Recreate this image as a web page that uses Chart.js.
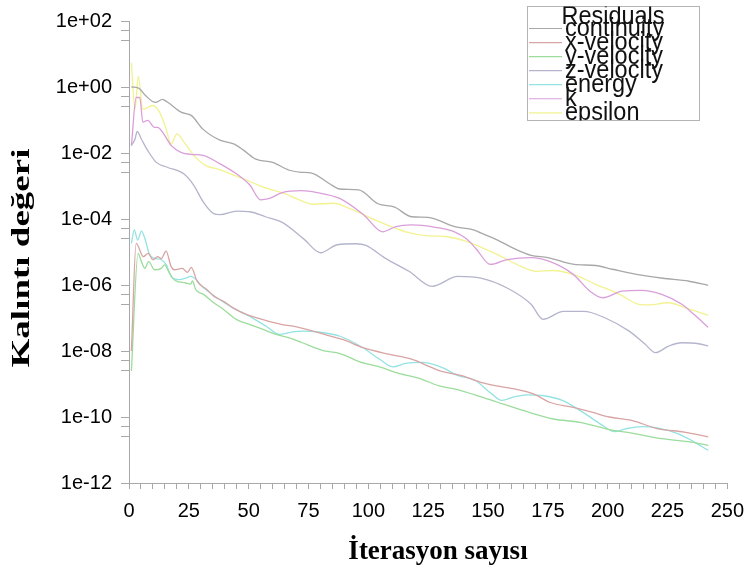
<!DOCTYPE html>
<html>
<head>
<meta charset="utf-8">
<script src="https://cdn.jsdelivr.net/npm/chart.js@4.4.1/dist/chart.umd.min.js"></script>
<style>
  html, body { margin: 0; padding: 0; background: #fff; }
  #wrap { width: 754px; height: 570px; position: relative; }
</style>
</head>
<body>
<div id="wrap"><canvas id="chart"></canvas></div>
<script>
// --- Data (iteration, residual) ---
const contIter = [1, 4, 7, 11, 14, 16, 22, 26, 31, 38, 44, 48, 53, 60, 67, 72, 76, 84, 88, 96, 104, 111, 118, 125, 136, 144, 147, 154, 161, 168, 175, 186, 195, 202, 212, 223, 234, 242];
const contVal = [1.0, 0.93, 0.54, 0.34, 0.42, 0.35, 0.17, 0.138, 0.052, 0.0245, 0.0186, 0.012, 6.5e-3, 5.2e-3, 3.0e-3, 2.6e-3, 2.5e-3, 1.15e-3, 8.1e-4, 7.6e-4, 2.9e-4, 2.3e-4, 1.17e-4, 1.12e-4, 5.9e-5, 4.7e-5, 3.8e-5, 2.3e-5, 1.26e-5, 7.9e-6, 6.8e-6, 4.2e-6, 3.9e-6, 3.0e-6, 2.1e-6, 1.6e-6, 1.3e-6, 9.8e-7];

const xvelIter = [1, 3, 6, 8, 10, 12, 13.5, 15.5, 17.6, 19, 22.3, 24.4, 26, 28.5, 32.6, 35.4, 39.5, 43.6, 49, 56, 64, 70, 83, 89.6, 97.8, 108.8, 118.4, 125, 129.3, 139, 147, 155.4, 161, 169, 176, 185.6, 193.8, 200.7, 210, 221, 232, 242];
const xvelVal = [1.0e-8, 1.82e-5, 7.2e-6, 9.1e-6, 5.8e-6, 7.2e-6, 6.3e-6, 1.07e-5, 3.6e-6, 2.9e-6, 3.2e-6, 2.4e-6, 3.4e-6, 1.29e-6, 7.2e-7, 4.6e-7, 3.2e-7, 2.0e-7, 1.29e-7, 8.9e-8, 6.3e-8, 5.4e-8, 3.0e-8, 2.2e-8, 1.26e-8, 7.9e-9, 5.6e-9, 3.5e-9, 2.6e-9, 1.78e-9, 1.12e-9, 8.3e-10, 7.1e-10, 5.0e-10, 2.75e-10, 1.95e-10, 1.38e-10, 1.0e-10, 7.9e-11, 4.4e-11, 3.5e-11, 2.5e-11];

const yvelIter = [1, 3.8, 5.2, 6.6, 8.2, 10.7, 13.5, 14.8, 16.9, 18.9, 23.7, 25.8, 26.5, 27.9, 31.3, 35.4, 39.5, 45, 50.5, 56, 61.4, 67, 72.4, 80.7, 88.2, 96.4, 104.7, 111.5, 121, 129.3, 136, 145.8, 154, 165, 177.4, 188.4, 199.3, 211.6, 222.6, 235, 242];
const yvelVal = [2.5e-9, 9.1e-6, 5.1e-6, 3.2e-6, 5.1e-6, 2.9e-6, 3.2e-6, 4.1e-6, 2.3e-6, 1.45e-6, 1.15e-6, 1.07e-6, 1.32e-6, 7.2e-7, 5.1e-7, 2.9e-7, 1.82e-7, 8.9e-8, 6.3e-8, 4.5e-8, 3.2e-8, 2.5e-8, 1.78e-8, 1.05e-8, 8.3e-9, 4.7e-9, 3.3e-9, 2.2e-9, 1.51e-9, 8.9e-10, 7.1e-10, 4.4e-10, 2.8e-10, 1.55e-10, 8.7e-11, 6.9e-11, 4.4e-11, 3.1e-11, 2.2e-11, 1.74e-11, 1.38e-11];

const zvelIter = [1, 2.5, 3.4, 5.2, 7.8, 11.4, 16, 23, 27, 31, 35.4, 38, 45, 50.6, 57, 64, 73, 80, 87, 95, 99, 107, 117, 126.6, 137.4, 147, 158, 168, 173, 181.5, 190, 199, 209, 215.6, 220, 225.5, 231, 238, 242];
const zvelVal = [1.7e-2, 2.6e-2, 4.5e-2, 2.6e-2, 1.2e-2, 5.2e-3, 3.7e-3, 2.3e-3, 1.07e-3, 3.3e-4, 1.45e-4, 1.35e-4, 1.74e-4, 1.66e-4, 1.17e-4, 7.9e-5, 2.5e-5, 9.5e-6, 1.66e-5, 1.78e-5, 1.58e-5, 6.5e-6, 2.6e-6, 9.1e-7, 1.82e-6, 1.62e-6, 8.1e-7, 2.6e-7, 9.1e-8, 1.58e-7, 1.58e-7, 1.0e-7, 4.0e-8, 1.62e-8, 8.9e-9, 1.41e-8, 1.78e-8, 1.66e-8, 1.41e-8];

const energyIter = [1, 2.2, 3.6, 5.2, 6.6, 8.6, 10.7, 13.5, 15.5, 18.1, 21, 23.7, 25.8, 31.3, 36.7, 43.6, 50.5, 57.3, 62.8, 68.3, 72.4, 78.6, 88.2, 97.8, 104.7, 110.2, 115.6, 122.5, 130.7, 137.6, 144.4, 151.3, 155.8, 161, 166.4, 173.3, 181.5, 189.7, 198, 202.8, 207.5, 214.4, 221.3, 229.5, 235, 242];
const energyVal = [1.82e-5, 4.7e-5, 2.3e-5, 4.3e-5, 2.6e-5, 8.3e-6, 6.5e-6, 5.8e-6, 4.2e-6, 1.62e-6, 1.45e-6, 1.62e-6, 1.82e-6, 8.1e-7, 4.1e-7, 2.0e-7, 1.12e-7, 5.6e-8, 3.2e-8, 3.8e-8, 4.0e-8, 3.8e-8, 2.8e-8, 1.26e-8, 5.6e-9, 3.3e-9, 4.2e-9, 4.5e-9, 3.2e-9, 1.78e-9, 1.32e-9, 5.2e-10, 3.2e-10, 4.1e-10, 4.7e-10, 4.4e-10, 3.1e-10, 1.38e-10, 5.5e-11, 3.6e-11, 4.4e-11, 5.1e-11, 4.6e-11, 3.1e-11, 1.95e-11, 9.8e-12];

const kIter = [1, 3, 4.5, 5.8, 7.8, 10.7, 12, 14, 17.6, 21.7, 25.8, 31, 38, 45, 50.5, 55, 58.7, 64, 72, 78.6, 88, 98, 106, 111.5, 118, 128, 136, 141, 145, 151, 158, 168, 176, 185.6, 192.6, 198, 206, 214, 222.6, 231, 236, 242];
const kVal = [1.66e-2, 0.48, 0.48, 8.5e-2, 9.8e-2, 6.0e-2, 6.0e-2, 4.3e-2, 1.7e-2, 1.05e-2, 9.1e-3, 8.5e-3, 4.7e-3, 2.3e-3, 1.07e-3, 3.8e-4, 4.2e-4, 6.3e-4, 7.2e-4, 6.3e-4, 4.2e-4, 1.35e-4, 4.1e-5, 5.9e-5, 6.6e-5, 5.6e-5, 4.1e-5, 2.5e-5, 1.26e-5, 4.2e-6, 5.9e-6, 6.8e-6, 5.1e-6, 2.1e-6, 6.5e-7, 4.1e-7, 6.5e-7, 6.9e-7, 5.2e-7, 2.6e-7, 1.29e-7, 5.2e-8];

const epsIter = [1, 2.5, 3.9, 5.8, 10, 12.8, 15.5, 17.6, 20, 23, 28, 32.5, 37.5, 44, 51, 58, 65, 70.4, 77, 85.5, 92, 104.5, 115.6, 125, 133, 140, 154, 164, 170, 177, 185.6, 195, 205, 213, 217, 225.5, 232, 242];
const epsVal = [5.4, 0.21, 2.1, 0.21, 0.275, 0.17, 0.054, 0.0186, 0.038, 0.0214, 7.1e-3, 4.0e-3, 3.2e-3, 2.1e-3, 1.32e-3, 8.3e-4, 5.9e-4, 4.0e-4, 2.8e-4, 3.0e-4, 2.1e-4, 8.3e-5, 4.1e-5, 3.1e-5, 2.9e-5, 2.2e-5, 8.3e-6, 3.6e-6, 2.6e-6, 2.75e-6, 2.1e-6, 1.05e-6, 5.2e-7, 2.6e-7, 2.5e-7, 2.9e-7, 2.1e-7, 1.2e-7];

const seriesNames = ['continuity', 'x-velocity', 'y-velocity', 'z-velocity', 'energy', 'k', 'epsilon'];
const seriesIters = [contIter, xvelIter, yvelIter, zvelIter, energyIter, kIter, epsIter];
const seriesVals = [contVal, xvelVal, yvelVal, zvelVal, energyVal, kVal, epsVal];
const seriesColors = ['#a8a8a8', '#d8a4a4', '#9cdc9c', '#b4b4cc', '#94e2e2', '#da9eda', '#f2f290'];

const xTickStep = 5;
const xLabelStep = 25;
const yMajorExps = [2, 0, -2, -4, -6, -8, -10, -12];

const AXIS_COLOR = '#a8a8a8';
const SANS = "'Liberation Sans', Arial, sans-serif";
const SERIF = "'Liberation Serif', 'Times New Roman', serif";

function expLabel(e) {
    return '1e' + (e >= 0 ? '+' : '-') + String(Math.abs(e)).padStart(2, '0');
}

// Legend box drawn in the top-right corner, like the solver's residual window.
const residualLegend = {
    id: 'residualLegend',
    afterDraw(chart) {
        const { ctx } = chart;
        const bx = 527.5, by = 6.5, bw = 172, bh = 114;
        ctx.save();
        ctx.fillStyle = '#fff';
        ctx.fillRect(bx, by, bw, bh);
        ctx.strokeStyle = '#b4b4b4';
        ctx.lineWidth = 1;
        ctx.strokeRect(bx, by, bw, bh);
        ctx.beginPath();
        ctx.rect(bx, by, bw, bh);
        ctx.clip();
        ctx.fillStyle = '#111';
        ctx.font = `23.5px ${SANS}`;
        ctx.textBaseline = 'alphabetic';
        // text in the original export is a little taller than wide
        const txt = (s, x, y, align) => {
            ctx.save();
            ctx.translate(x, y);
            ctx.scale(1, 1.1);
            ctx.textAlign = align;
            ctx.fillText(s, 0, 0);
            ctx.restore();
        };
        txt('Residuals', 613, 23.5, 'center');
        chart.data.datasets.forEach((ds, i) => {
            const y = 28.5 + i * 14.05;
            ctx.strokeStyle = ds.borderColor;
            ctx.lineWidth = 1.2;
            ctx.beginPath();
            ctx.moveTo(529, y);
            ctx.lineTo(562, y);
            ctx.stroke();
            txt(ds.label, 565, y + 7, 'left');
        });
        ctx.restore();
    },
};

// Axis titles: drawn by hand so the stretched look of the export can be kept.
const axisTitles = {
    id: 'axisTitles',
    afterDraw(chart) {
        const { ctx } = chart;
        ctx.save();
        ctx.fillStyle = '#000';
        ctx.font = `bold 27px ${SERIF}`;
        ctx.textAlign = 'center';
        ctx.textBaseline = 'alphabetic';
        ctx.fillText('İterasyon sayısı', 438, 559);
        ctx.translate(29, 258);
        ctx.rotate(-Math.PI / 2);
        ctx.scale(1.37, 0.95);
        ctx.fillText('Kalıntı değeri', 0, 0);
        ctx.restore();
    },
};

const datasets = seriesNames.map((name, i) => ({
    label: name,
    data: seriesIters[i].map((it, j) => ({ x: it, y: seriesVals[i][j] })),
    borderColor: seriesColors[i],
    borderWidth: 1.3,
    pointRadius: 0,
    fill: false,
    cubicInterpolationMode: 'monotone',
}));

new Chart(document.getElementById('chart'), {
    type: 'line',
    data: { datasets },
    options: {
        responsive: true,
        maintainAspectRatio: false,
        animation: false,
        layout: { padding: { top: 18, right: 18, left: 0, bottom: 0 } },
        plugins: {
            legend: { display: false },
            tooltip: { enabled: false },
        },
        scales: {
            x: {
                type: 'linear',
                min: 0,
                max: 250,
                afterBuildTicks(scale) {
                    const ticks = [];
                    for (let v = 0; v <= 250; v += xTickStep) ticks.push({ value: v });
                    scale.ticks = ticks;
                },
                afterFit(scale) { scale.height = 87; },
                ticks: {
                    autoSkip: false,
                    maxRotation: 0,
                    padding: 10,
                    color: '#000',
                    font: { family: SANS, size: 20 },
                    callback: (v) => (v % xLabelStep === 0 ? String(v) : ''),
                },
                grid: { drawOnChartArea: false, color: AXIS_COLOR, tickLength: 6 },
                border: { color: AXIS_COLOR },
            },
            y: {
                type: 'logarithmic',
                min: 1e-12,
                max: 1e2,
                afterBuildTicks(scale) {
                    const ticks = [];
                    yMajorExps.forEach((e) => {
                        ticks.push({ value: Math.pow(10, e) });
                        if (e > -12) {
                            ticks.push({ value: 5 * Math.pow(10, e - 1) });
                            ticks.push({ value: 2.5 * Math.pow(10, e - 1) });
                        }
                    });
                    scale.ticks = ticks;
                },
                afterFit(scale) { scale.width = 129; },
                ticks: {
                    autoSkip: false,
                    padding: 9,
                    color: '#000',
                    font: { family: SANS, size: 20 },
                    callback: (v) => {
                        const l = Math.log10(v);
                        const e = Math.round(l);
                        if (Math.abs(l - e) > 0.01 || e % 2 !== 0) return '';
                        return expLabel(e);
                    },
                },
                grid: { drawOnChartArea: false, color: AXIS_COLOR, tickLength: 8 },
                border: { color: AXIS_COLOR },
            },
        },
    },
    plugins: [residualLegend, axisTitles],
});
</script>
</body>
</html>
